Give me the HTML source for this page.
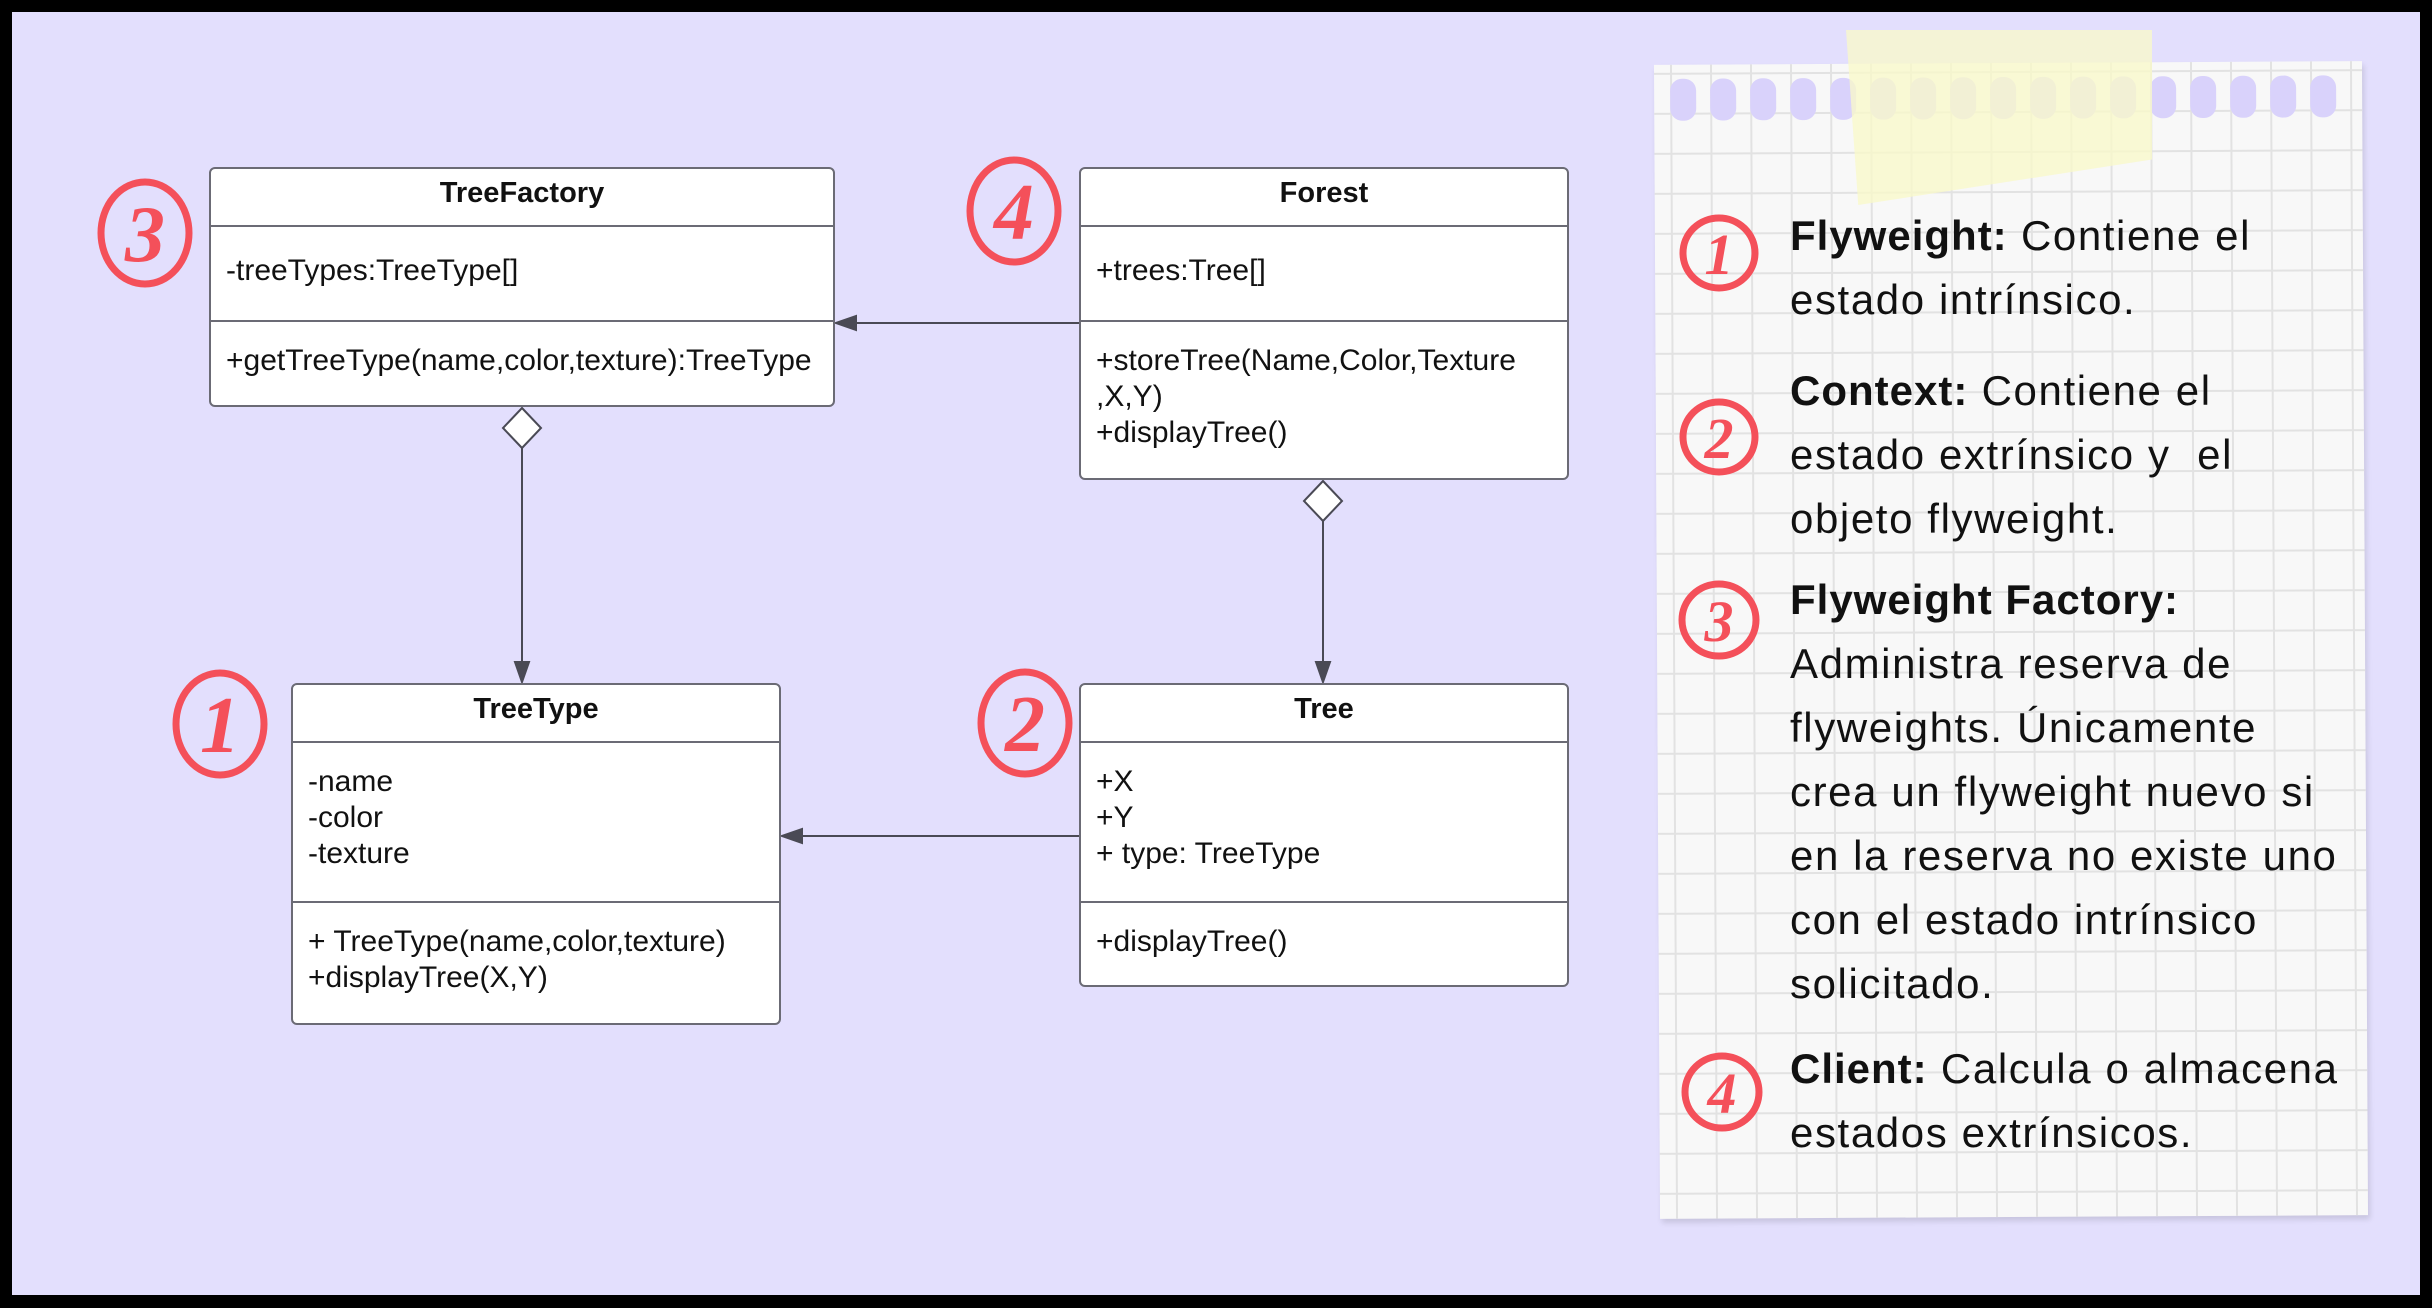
<!DOCTYPE html>
<html><head><meta charset="utf-8">
<style>
html,body{margin:0;padding:0}
body{width:2432px;height:1308px;background:#000;position:relative;overflow:hidden;font-family:"Liberation Sans",sans-serif}
#bg{position:absolute;left:12px;top:12px;width:2408px;height:1283px;background:#e3dffd}
.box{position:absolute;background:#fff;border:2px solid #6b6b75;border-radius:6px;box-sizing:border-box}
.hl{position:absolute;left:0;right:0;height:2px;background:#6b6b75}
.t{position:absolute;font-size:30px;color:#111;white-space:pre;line-height:36px}
.title{position:absolute;left:0;right:0;text-align:center;font-weight:bold;font-size:29px;color:#111}
#paper{position:absolute;left:1657px;top:63px;width:708px;height:1154px;background-color:#f8f8f8;
background-image:linear-gradient(#e2e2e2 2px,transparent 2px),linear-gradient(90deg,#e2e2e2 2px,transparent 2px);
background-size:40px 40px;background-position:16px 8px;box-shadow:2px 4px 6px rgba(0,0,0,0.12);transform:rotate(-0.3deg)}
.hole{position:absolute;top:14px;width:26px;height:42px;background:#d9d2fb;border-radius:12px}
#tape{position:absolute;left:1846px;top:30px;width:306px;height:175px;background:rgba(250,250,200,0.75);clip-path:polygon(0 0,100% 0,100% 74%,4% 100%)}
.nt{position:absolute;left:1790px;font-size:42px;color:#111;line-height:64px;white-space:pre;letter-spacing:1.6px}
.nt b{font-weight:bold;letter-spacing:1px}
</style></head><body>
<div id="bg"></div>

<svg width="2432" height="1308" style="position:absolute;left:0;top:0">
<g stroke="#4a4a55" stroke-width="2" fill="#4a4a55">
<line x1="1080" y1="323" x2="850" y2="323"/><polygon points="836,323 856,316 856,330"/>
<line x1="1080" y1="836" x2="796" y2="836"/><polygon points="782,836 802,829 802,843"/>
<line x1="522" y1="448" x2="522" y2="668"/><polygon points="522,682 515,662 529,662"/>
<line x1="1323" y1="521" x2="1323" y2="668"/><polygon points="1323,682 1316,662 1330,662"/>
</g>
<g stroke="#4a4a55" stroke-width="2" fill="#fff">
<polygon points="522,408 541,428 522,448 503,428"/>
<polygon points="1323,481 1342,501 1323,521 1304,501"/>
</g>
</svg>

<div class="box" style="left:209px;top:167px;width:626px;height:240px">
<div class="title" style="top:8px">TreeFactory</div>
<div class="hl" style="top:56px"></div><div class="hl" style="top:151px"></div>
<div class="t" style="left:15px;top:84px">-treeTypes:TreeType[]</div>
<div class="t" style="left:15px;top:174px">+getTreeType(name,color,texture):TreeType</div>
</div>
<div class="box" style="left:1079px;top:167px;width:490px;height:313px">
<div class="title" style="top:8px">Forest</div>
<div class="hl" style="top:56px"></div><div class="hl" style="top:151px"></div>
<div class="t" style="left:15px;top:84px">+trees:Tree[]</div>
<div class="t" style="left:15px;top:174px">+storeTree(Name,Color,Texture
,X,Y)
+displayTree()</div>
</div>
<div class="box" style="left:291px;top:683px;width:490px;height:342px">
<div class="title" style="top:8px">TreeType</div>
<div class="hl" style="top:56px"></div><div class="hl" style="top:216px"></div>
<div class="t" style="left:15px;top:79px">-name
-color
-texture</div>
<div class="t" style="left:15px;top:239px">+ TreeType(name,color,texture)
+displayTree(X,Y)</div>
</div>
<div class="box" style="left:1079px;top:683px;width:490px;height:304px">
<div class="title" style="top:8px">Tree</div>
<div class="hl" style="top:56px"></div><div class="hl" style="top:216px"></div>
<div class="t" style="left:15px;top:79px">+X
+Y
+ type: TreeType</div>
<div class="t" style="left:15px;top:239px">+displayTree()</div>
</div>

<div id="paper">
<div class="hole" style="left:16px"></div><div class="hole" style="left:56px"></div><div class="hole" style="left:96px"></div><div class="hole" style="left:136px"></div><div class="hole" style="left:176px"></div><div class="hole" style="left:216px"></div><div class="hole" style="left:256px"></div><div class="hole" style="left:296px"></div><div class="hole" style="left:336px"></div><div class="hole" style="left:376px"></div><div class="hole" style="left:416px"></div><div class="hole" style="left:456px"></div><div class="hole" style="left:496px"></div><div class="hole" style="left:536px"></div><div class="hole" style="left:576px"></div><div class="hole" style="left:616px"></div><div class="hole" style="left:656px"></div>
</div>
<div id="tape"></div>

<div class="nt" style="top:204px"><b>Flyweight:</b> Contiene el
estado intrínsico.</div>
<div class="nt" style="top:359px"><b>Context:</b> Contiene el
estado extrínsico y  el
objeto flyweight.</div>
<div class="nt" style="top:568px"><b>Flyweight Factory:</b>
Administra reserva de
flyweights. Únicamente
crea un flyweight nuevo si
en la reserva no existe uno
con el estado intrínsico
solicitado.</div>
<div class="nt" style="top:1037px"><b>Client:</b> Calcula o almacena
estados extrínsicos.</div>

<svg width="2432" height="1308" style="position:absolute;left:0;top:0">
<g fill="none" stroke="#f4505a" stroke-width="7">
<ellipse cx="145" cy="233" rx="44" ry="51"/>
<ellipse cx="1014" cy="211" rx="44" ry="51"/>
<ellipse cx="220" cy="724" rx="44" ry="51"/>
<ellipse cx="1025" cy="723" rx="44" ry="51"/>
<ellipse cx="1719" cy="253" rx="36" ry="35"/>
<ellipse cx="1719" cy="437" rx="36" ry="35"/>
<ellipse cx="1719" cy="620" rx="37" ry="36"/>
<ellipse cx="1722" cy="1092" rx="37" ry="36"/>
</g>
<g fill="#f4505a" font-family="Liberation Serif,serif" font-style="italic" font-weight="bold" text-anchor="middle">
<text x="145" y="261" font-size="80">3</text>
<text x="1014" y="239" font-size="80">4</text>
<text x="220" y="752" font-size="80">1</text>
<text x="1025" y="751" font-size="80">2</text>
<text x="1719" y="274" font-size="58">1</text>
<text x="1719" y="458" font-size="58">2</text>
<text x="1719" y="641" font-size="58">3</text>
<text x="1722" y="1113" font-size="58">4</text>
</g>
</svg>
</body></html>
